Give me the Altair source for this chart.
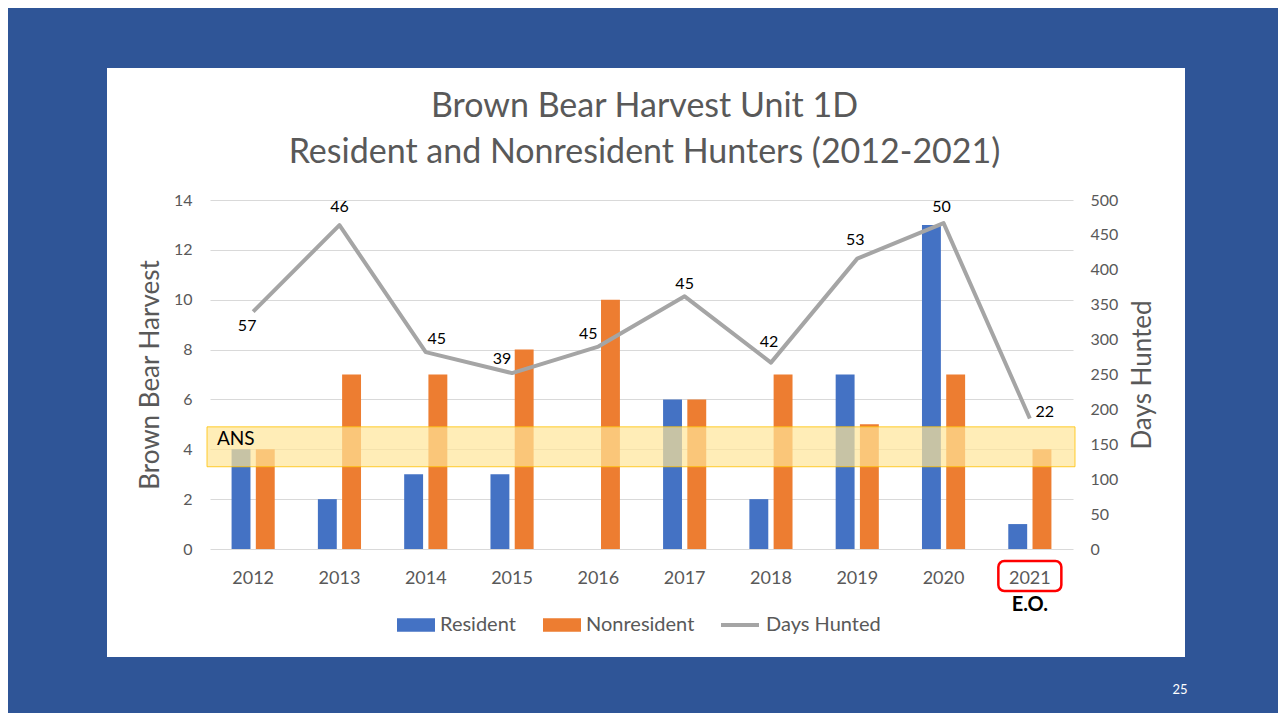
import altair as alt
import pandas as pd

# ---------------- data ----------------
years = ["2012", "2013", "2014", "2015", "2016", "2017", "2018", "2019", "2020", "2021"]
resident = [4, 2, 3, 3, 0, 6, 2, 7, 13, 1]
nonresident = [4, 7, 7, 8, 10, 6, 7, 5, 7, 4]
days_hunted = [340, 464, 282, 252, 290, 362, 267, 416, 467, 187]
hunter_labels = [57, 46, 45, 39, 45, 45, 42, 53, 50, 22]
bar_series = ["Resident", "Nonresident"]
line_series = "Days Hunted"
ans_low = [3.3]
ans_high = [4.9]
ans_name = ["ANS"]
eo_year = ["2021"]
eo_note = ["E.O."]
title_lines = ["Brown Bear Harvest Unit 1D", "Resident and Nonresident Hunters (2012-2021)"]
left_ticks = [0, 2, 4, 6, 8, 10, 12, 14]
right_ticks = [0, 50, 100, 150, 200, 250, 300, 350, 400, 450, 500]
page_number = ["25"]

# ---------------- tables ----------------
bars_df = pd.DataFrame({
    "Year": years * 2,
    "Series": [bar_series[0]] * len(years) + [bar_series[1]] * len(years),
    "Harvest": resident + nonresident,
})
line_df = pd.DataFrame({
    "Year": years,
    "Days": days_hunted,
    "Label": [str(v) for v in hunter_labels],
    "Series": [line_series] * len(years),
})
ans_df = pd.DataFrame({"lo": ans_low, "hi": ans_high, "name": ans_name})
eo_df = pd.DataFrame({"Year": eo_year, "note": eo_note})
pn_df = pd.DataFrame({"t": page_number})
title_df = pd.DataFrame({"line": title_lines, "row": [0, 1]})

W, H = 863, 349
FONT = "Lato"
GRAY = "#595959"
SLIDE = "#2F5597"

x_enc = alt.X("Year:N", sort=years, title=None,
              scale=alt.Scale(paddingInner=0.5, paddingOuter=0.25),
              axis=alt.Axis(labelAngle=0, labelFontSize=18, labelColor=GRAY, labelFont=FONT,
                            domain=False, ticks=False, labelPadding=20, grid=False))

left_axis = alt.Axis(values=left_ticks, grid=True, gridColor="#D9D9D9", gridWidth=1,
                     domain=False, ticks=False, labelPadding=18, labelFontSize=16,
                     labelColor=GRAY, labelFont=FONT, titleFont=FONT, titleFontSize=26,
                     titleFontWeight="normal", titleColor=GRAY, titlePadding=10,
                     title="Brown Bear Harvest")
left_scale = alt.Scale(domain=[0, 14], nice=False)

bars = alt.Chart(bars_df).mark_bar().encode(
    x=x_enc,
    xOffset=alt.XOffset("Series:N", sort=bar_series, scale=alt.Scale(paddingInner=0.22)),
    y=alt.Y("Harvest:Q", scale=left_scale, axis=left_axis),
    color=alt.Color("Series:N", sort=bar_series,
                    scale=alt.Scale(domain=bar_series, range=["#4472C4", "#ED7D31"]),
                    legend=alt.Legend(orient="none", legendX=187, legendY=406, direction="horizontal",
                                      title=None, symbolType="M-1,-0.35L1,-0.35L1,0.35L-1,0.35Z",
                                      symbolSize=1444, symbolStrokeWidth=0, labelFontSize=20,
                                      labelColor=GRAY, labelFont=FONT, columnPadding=27,
                                      padding=0, labelOffset=5)),
)

ans_rect = alt.Chart(ans_df).mark_rect(fill="#FFE699", fillOpacity=0.7, stroke="#FFC000",
                                      strokeOpacity=0.8, strokeWidth=1).encode(
    x=alt.value(-3), x2=alt.value(W + 2),
    y=alt.Y("lo:Q", scale=left_scale, axis=left_axis), y2="hi:Q",
)
ans_text = alt.Chart(ans_df).mark_text(align="left", baseline="top", dx=0, dy=3, fontSize=19,
                                       font=FONT, color="black").encode(
    x=alt.value(7), y=alt.Y("hi:Q", scale=left_scale, axis=left_axis), text="name:N",
)
eo_box = alt.Chart(eo_df).mark_bar(width=63, fill="transparent", stroke="#FF0000",
                                   strokeWidth=2.5, cornerRadius=6).encode(
    x=x_enc, y=alt.value(H + 12), y2=alt.value(H + 42),
)
eo_text = alt.Chart(eo_df).mark_text(fontSize=20, fontWeight="bold", font=FONT,
                                     color="black", baseline="middle").encode(
    x=x_enc, y=alt.value(H + 56), text="note:N",
)

left = alt.layer(bars, ans_rect, ans_text, eo_box, eo_text)

right_axis = alt.Axis(values=right_ticks, orient="right", grid=False, domain=False, ticks=False,
                      labelPadding=17, labelFontSize=16, labelColor=GRAY, labelFont=FONT,
                      titleFont=FONT, titleFontSize=26, titleFontWeight="normal", titleColor=GRAY,
                      titleAngle=270, titlePadding=38, title="Days Hunted")
right_scale = alt.Scale(domain=[0, 500], nice=False)

line = alt.Chart(line_df).mark_line(strokeWidth=4, strokeJoin="round").encode(
    x=x_enc,
    y=alt.Y("Days:Q", scale=right_scale, axis=right_axis),
    stroke=alt.Stroke("Series:N", scale=alt.Scale(domain=[line_series], range=["#A5A5A5"]),
                      legend=alt.Legend(orient="none", legendX=509, legendY=404, title=None,
                                        symbolType="stroke", symbolSize=1444, symbolStrokeWidth=4,
                                        labelFontSize=20, labelColor=GRAY, labelFont=FONT,
                                        padding=0, labelOffset=5)),
)

label_offsets = {
    "2012": (-6, 14), "2013": (0, -18), "2014": (11, -13), "2015": (-10, -14),
    "2016": (-10, -13), "2017": (0, -12), "2018": (-2, -21), "2019": (-2, -19),
    "2020": (-2, -16), "2021": (15, -6),
}
label_layers = []
for yr in years:
    dx, dy = label_offsets[yr]
    label_layers.append(
        alt.Chart(line_df).transform_filter(alt.datum.Year == yr)
        .mark_text(fontSize=16, font=FONT, color="black", dx=dx, dy=dy)
        .encode(x=x_enc, y=alt.Y("Days:Q", scale=right_scale, axis=right_axis), text="Label:N")
    )

right = alt.layer(line, *label_layers)

# slide frame (blue border around white chart panel)
PL, PT, PR, PB = 202, 192, 205, 164
wl, wt, wr, wb = -103, -132, 975, 457
frame_base = alt.Chart(pn_df).mark_rect(fill=SLIDE, strokeWidth=0)
frames = [
    frame_base.encode(x=alt.value(-PL), x2=alt.value(W + PR), y=alt.value(-PT), y2=alt.value(wt)),
    frame_base.encode(x=alt.value(-PL), x2=alt.value(W + PR), y=alt.value(wb), y2=alt.value(H + PB)),
    frame_base.encode(x=alt.value(-PL), x2=alt.value(wl), y=alt.value(wt), y2=alt.value(wb)),
    frame_base.encode(x=alt.value(wr), x2=alt.value(W + PR), y=alt.value(wt), y2=alt.value(wb)),
]
pn = alt.Chart(pn_df).mark_text(fontSize=13, font=FONT, color="white").encode(
    x=alt.value(970), y=alt.value(490), text="t:N")

title_layers = [
    alt.Chart(title_df).transform_filter(alt.datum.row == r)
    .mark_text(fontSize=34, font=FONT, color=GRAY, baseline="middle", align="center")
    .encode(x=alt.value(W / 2 + 3), y=alt.value(yv), text="line:N")
    for r, yv in [(0, -93), (1, -47)]
]

chart = alt.layer(*frames, *title_layers, left, right, pn).resolve_scale(y="independent").properties(
    width=W, height=H,
    autosize=alt.AutoSizeParams(type="none"),
    padding={"left": PL, "top": PT, "right": PR, "bottom": PB},
    background="white",
).configure_view(stroke=None)

chart.save("out.html", embed_options={"renderer": "svg", "actions": False})
